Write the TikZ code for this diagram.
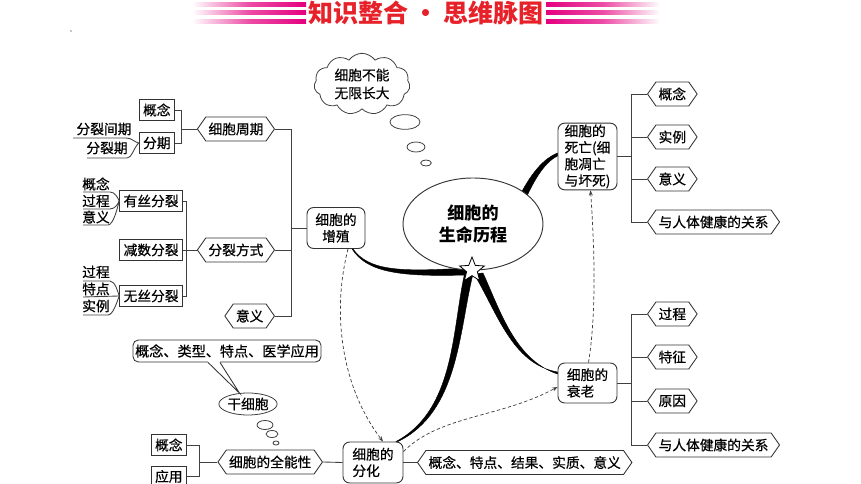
\documentclass[tikz,border=0pt]{standalone}
\usepackage{fontspec}
\setmainfont{Noto Sans CJK SC}
\newfontfamily\medf{Noto Sans CJK SC}[FakeBold=0.6]
\usetikzlibrary{shapes.geometric,shapes.symbols,shapes.callouts,arrows.meta,calc}
\definecolor{tred}{RGB}{230,33,42}
\definecolor{tpink}{RGB}{228,0,127}
\begin{document}
\begin{tikzpicture}[x=0.75pt,y=-0.75pt,
  every node/.style={font=\medf\fontsize{10.3}{12.4}\selectfont, text=black},
  tl/.style={draw=black!75, line width=0.65pt},
  sqbox/.style={draw=black!80, line width=0.65pt, rectangle, inner xsep=3pt, inner ysep=1pt, minimum height=15.5pt},
  hexa/.style={draw=black!80, line width=0.65pt, signal, signal to=east and west, signal pointer angle=110, inner xsep=2pt, inner ysep=1pt, minimum height=18pt},
  rnd/.style={draw=black!80, line width=0.7pt, rounded corners=5pt, align=left, inner sep=0pt},
  bub/.style={draw=black!75, line width=0.6pt, ellipse, inner sep=0pt},
  dsh/.style={draw=black!75, line width=0.55pt, dash pattern=on 2.5pt off 1.8pt, -{Stealth[length=4pt,width=3pt]}},
  taper/.style={fill=black, draw=black, line width=0.3pt},
  lbl/.style={inner sep=0pt},
]
\useasboundingbox (0,0) rectangle (861,484);

% title
\shade[left color=white, right color=tpink, middle color=tpink!70] (192,3) rectangle (306,7);
\shade[left color=white, right color=tpink, middle color=tpink!70] (192,11) rectangle (306,15);
\shade[left color=white, right color=tpink, middle color=tpink!70] (192,19.5) rectangle (306,23.5);
\shade[left color=tpink, right color=white, middle color=tpink!70] (546,3) rectangle (660,7);
\shade[left color=tpink, right color=white, middle color=tpink!70] (546,11) rectangle (660,15);
\shade[left color=tpink, right color=white, middle color=tpink!70] (546,19.5) rectangle (660,23.5);
\node[font=\rmfamily\fontsize{18.75}{20}\bfseries\selectfont, text=tred, inner sep=0pt] (title) at (426,13) {知识整合\hspace{0.2em}·\hspace{0.2em}思维脉图};
\fill[black!45] (71,31) circle (0.8);

% cloud
\node[cloud, draw=black!75, line width=0.6pt, cloud puffs=11, cloud puff arc=110, aspect=1.5, minimum width=72pt, minimum height=46pt, align=center, inner sep=0pt, font=\medf\fontsize{10.3}{13.5}\selectfont] (cloud) at (362,84) {细胞不能\\无限长大};
\node[bub, minimum width=22.5pt, minimum height=11pt] (b1) at (405,122) {};
\node[bub, minimum width=13.5pt, minimum height=7.5pt] (b2) at (416,147) {};
\node[bub, minimum width=8pt, minimum height=4.5pt] (b3) at (426,163) {};

% main nodes
\node[rnd, align=center, minimum width=43.5pt, minimum height=30.75pt] (zz) at (336,228) {细胞的\\增殖};
\node[rnd, minimum width=44.25pt, minimum height=50pt] (sw) at (587.5,156.5) {细胞的\\死亡(细\\胞凋亡\\与坏死)};
\node[rnd, minimum width=44.25pt, minimum height=30pt] (sl) at (587.5,383) {细胞的\\衰老};
\node[rnd, minimum width=45pt, minimum height=30.75pt] (fh) at (373,462.5) {细胞的\\分化};

% left tree
\node[hexa, anchor=east] (cyc) at (275,129) {细胞周期};
\node[hexa, anchor=east] (fsf) at (275,250) {分裂方式};
\node[hexa, anchor=east] (yy) at (275,316) {意义};
\node[sqbox, anchor=east] (gn) at (175,110) {概念};
\node[sqbox, anchor=east] (fq) at (175,143) {分期};
\node[sqbox, anchor=east] (ys) at (183,201) {有丝分裂};
\node[sqbox, anchor=east] (js) at (183,250) {减数分裂};
\node[sqbox, anchor=east] (ws) at (183,296) {无丝分裂};
\node[lbl] (l1) at (104,129) {分裂间期};
\node[lbl] (l2) at (107,148) {分裂期};
\node[lbl] (l3) at (96,184) {概念};
\node[lbl] (l4) at (96,201) {过程};
\node[lbl] (l5) at (96,217) {意义};
\node[lbl] (l6) at (96,272) {过程};
\node[lbl] (l7) at (96,289) {特点};
\node[lbl] (l8) at (96,306) {实例};

\draw[tl] (zz.west) -- ++(-15,0) |- (cyc.east);
\draw[tl] (zz.west) -- ++(-15,0) |- (fsf.east);
\draw[tl] (zz.west) -- ++(-15,0) |- (yy.east);
\draw[tl] (cyc.west) -- ++(-15,0) |- (gn.east);
\draw[tl] (cyc.west) -- ++(-15,0) |- (fq.east);
\draw[tl] (fsf.west) -- ++(-10,0) |- (ys.east);
\draw[tl] (fsf.west) -- (js.east);
\draw[tl] (fsf.west) -- ++(-10,0) |- (ws.east);

\draw[tl] (73,138) -- (126,138) .. controls (132,138) and (134,142) .. (fq.west);
\draw[tl] (87,158) -- (127,158) .. controls (132,158) and (133,149) .. (fq.west);
\draw[tl] (83,192) -- (110,192) .. controls (115,192) and (118,198) .. (ys.west);
\draw[tl] (83,209) -- (110,209) .. controls (115,209) and (118,204) .. (ys.west);
\draw[tl] (83,225) -- (108,225) .. controls (113,225) and (117,210) .. (ys.west);
\draw[tl] (83,281) -- (110,281) .. controls (115,281) and (118,292) .. (ws.west);
\draw[tl] (83,297) -- (ws.west);
\draw[tl] (83,315) -- (108,315) .. controls (113,315) and (117,302) .. (ws.west);

% right trees
\node[hexa, anchor=west] (sw1) at (647,94) {概念};
\node[hexa, anchor=west] (sw2) at (647,137) {实例};
\node[hexa, anchor=west] (sw3) at (647,179) {意义};
\node[hexa, anchor=west] (sw4) at (647,222) {与人体健康的关系};
\node[hexa, anchor=west] (sl1) at (647,314) {过程};
\node[hexa, anchor=west] (sl2) at (647,357) {特征};
\node[hexa, anchor=west] (sl3) at (647,401) {原因};
\node[hexa, anchor=west] (sl4) at (647,445) {与人体健康的关系};
\foreach \k in {1,...,4} {
  \draw[tl] (sw.east) -- ++(14,0) |- (sw\k.west);
  \draw[tl] (sl.east) -- ++(14,0) |- (sl\k.west);
}

% bottom left
\node[bub, minimum width=42pt, minimum height=16.5pt, font=\medf\fontsize{10.3}{12}\selectfont] (gxb) at (248,404) {干细胞};
\node[draw=black!80, line width=0.65pt, rounded corners=4pt, minimum width=141pt, minimum height=16.5pt, inner sep=0pt, font=\medf\fontsize{10.6}{12}\selectfont] (cl) at (227,351) {概念、类型、特点、医学应用};
\fill[white] ($(cl.south)+(-18.6,-1)$) rectangle ($(cl.south)+(-7.4,1.2)$);
\draw[draw=black!80, line width=0.65pt] ($(cl.south)+(-19,0)$) -- (gxb.128) -- ($(cl.south)+(-7,0)$);
\node[bub, minimum width=12pt, minimum height=6.75pt] (c1) at (265,425) {};
\node[bub, minimum width=9pt, minimum height=5.25pt] (c2) at (272,434) {};
\node[bub, minimum width=4.5pt, minimum height=3pt] (c3) at (276,443) {};

\node[hexa, anchor=east] (qn) at (323,462) {细胞的全能性};
\node[sqbox, anchor=east] (gn2) at (187,445) {概念};
\node[sqbox, anchor=east] (yyy) at (187,476.5) {应用};
\draw[tl] (qn.west) -- ++(-18,0) |- (gn2.east);
\draw[tl] (qn.west) -- ++(-18,0) |- (yyy.east);
\draw[tl] (fh.west) -- (qn.east);
\node[hexa, anchor=west] (fhx) at (417,462.5) {概念、特点、结果、实质、意义};
\draw[tl] (fh.east) -- (fhx.west);

% tapered thick connectors
\fill[taper] ($(zz.south)+(17,0)$) .. controls (369,271) and (400,272) .. (466,268) -- (466,275) .. controls (398,277) and (367,272) .. ($(zz.south)+(16,0)$) -- cycle;
\fill[taper] (464.5,274) .. controls (452,330) and (455,410) .. ($(fh.north)+(23,0)$) -- ($(fh.north)+(25,0)$) .. controls (459,412) and (459,330) .. (473,274) -- cycle;
\fill[taper] (474,274) .. controls (497,312) and (512,364) .. ($(sl.west)+(0,-11)$) -- ($(sl.west)+(0,-9)$) .. controls (515,360) and (500,310) .. (483,273) -- cycle;
\fill[taper] (515,205) .. controls (527,180) and (540,160) .. ($(sw.west)+(0,-3.5)$) -- ($(sw.west)+(0,-0.5)$) .. controls (543,163) and (532,184) .. (522,207) -- cycle;

% core
\node[ellipse, draw=black!80, line width=0.7pt, fill=white, minimum width=105pt, minimum height=69pt, inner sep=0pt, align=center, font=\rmfamily\fontsize{12.8}{17}\bfseries\selectfont] (core) at (473,224) {细胞的\\生命历程};
\node[star, star points=5, star point ratio=2.3, draw=black, fill=white, line width=0.6pt, minimum size=19.5pt, inner sep=0pt] (st) at (472,270) {};

% dashed arrows
\draw[dsh] ($(zz.south)+(12,0)$) .. controls (330,320) and (345,392) .. ($(fh.north)+(10,0)$);
\draw[dsh] ($(fh.east)+(0,-11)$) .. controls (440,415) and (500,418) .. ($(sl.west)+(0,4)$);
\draw[dsh] ($(sl.north)+(1,0)$) .. controls (597,310) and (594,240) .. ($(sw.south)+(3,0)$);
\end{tikzpicture}
\end{document}
